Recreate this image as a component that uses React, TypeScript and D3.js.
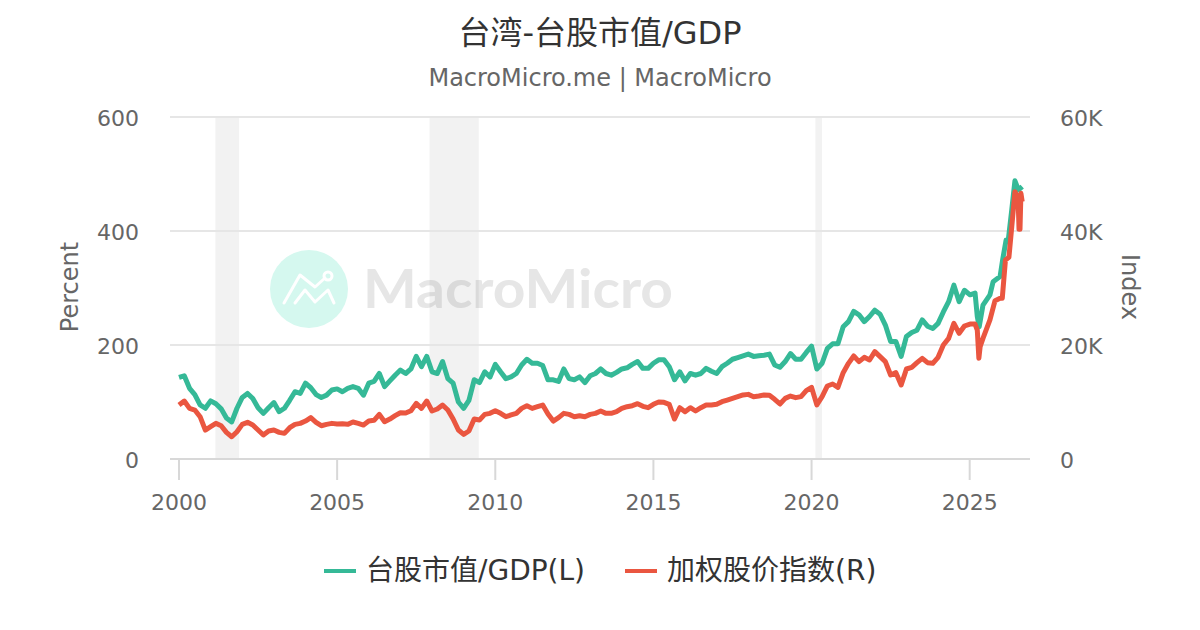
import React from "react";
import * as d3 from "d3";

const gridYears = d3.range(150).map(i => 2000 + i / 6);

const gdpGridValues = [
  143,146,124,113,95,89,102,97,88,72,65,89,108,115,106,90,80,90,99,83,89,103,118,115,133,125,113,
  108,112,121,123,118,124,127,124,112,133,136,150,127,137,147,156,150,158,180,162,180,153,150,171,141,133,100,89,
  103,139,134,153,144,166,153,141,144,150,165,175,168,168,164,139,139,136,158,141,139,144,134,146,150,158,150,147,
  152,158,160,166,171,159,159,168,174,174,162,139,153,137,150,147,150,159,154,150,162,168,175,178,181,184,180,
  181,182,184,165,161,171,185,175,175,187,198,158,168,194,202,202,232,241,259,253,241,250,261,254,235,206,206,180,
  215,222,226,244,233,229,238,258,276,305,276,296,
];
const gdpTailYears = [2025.01,2025.17,2025.24,2025.3,2025.42,2025.64,2025.74,2025.96,2026.04,2026.15,2026.22,2026.33,2026.43,2026.54,2026.66];
const gdpTailValues = [288,291,250,232,270,288,311,320,349,384,384,437,488,472,478];

const taiexGridValues = [
  9470,10170,8880,8590,7420,5080,5670,6250,5840,4670,3910,4790,6080,6430,5960,5080,4210,4910,5080,4670,4500,5490,6080,6250,6660,7250,6430,
  5840,6080,6250,6140,6190,6080,6490,6250,5960,6660,6780,7830,6550,7010,7600,8120,8070,8480,9760,8880,10170,8420,8770,9470,8590,7010,5080,4320,
  4910,7010,6840,7830,8010,8480,8010,7420,7720,8010,8880,9350,8880,9180,9470,7890,6660,7250,8010,7830,7420,7600,7420,7830,8010,8420,8010,8010,
  8300,8880,9180,9350,9700,9240,9000,9590,10000,9940,9590,7010,9000,8300,9000,8420,9000,9470,9470,9590,10050,10350,10640,10930,11230,11340,10930,
  11050,11230,11170,10470,9650,10640,11050,10760,10940,11990,12570,9500,10940,12810,13160,12570,15150,16780,18070,17080,17840,17370,18830,17950,17080,14740,15150,12980,
  15790,16080,16900,17660,16900,16780,17840,20000,21170,23800,22050,23330,
];
const taiexTailYears = [2025.01,2025.17,2025.24,2025.29,2025.33,2025.42,2025.64,2025.8,2025.96,2026.03,2026.13,2026.24,2026.33,2026.43,2026.53,2026.56,2026.59,2026.62,2026.66];
const taiexTailValues = [23680,23680,22630,17660,19710,21170,24390,27780,28190,28190,34910,35380,40760,46900,45730,40290,40290,46610,45150];

const recessions: [number, number][] = [[2001.15,2001.9],[2007.92,2009.48],[2020.12,2020.33]];
const xTicks = [2000,2005,2010,2015,2020,2025];
const leftTicks = [0,200,400,600];
const rightTicks = [0,20000,40000,60000];
const rightTickLabels = ["0","20K","40K","60K"];
const title = "台湾-台股市值/GDP";
const subtitle = "MacroMicro.me | MacroMicro";
const seriesNames = ["台股市值/GDP(L)","加权股价指数(R)"];
const seriesColors = ["#35b997","#ea5640"];

const FONT = "'DejaVu Sans','Noto Sans CJK SC',sans-serif";

export default function App() {
  const x = d3.scaleLinear().domain([2000,2025]).range([179,969.7]);
  const yL = d3.scaleLinear().domain([0,600]).range([459,117]);
  const yR = d3.scaleLinear().domain([0,60000]).range([459,117]);
  const gdp = d3.zip(gridYears.concat(gdpTailYears), gdpGridValues.concat(gdpTailValues));
  const taiex = d3.zip(gridYears.concat(taiexTailYears), taiexGridValues.concat(taiexTailValues));
  const gdpPath = d3.line<number[]>().x(d=>x(d[0])).y(d=>yL(d[1]))(gdp)!;
  const taiexPath = d3.line<number[]>().x(d=>x(d[0])).y(d=>yR(d[1]))(taiex)!;
  return (
    <svg width={1200} height={630} style={{position:"absolute",left:0,top:0,background:"#fff"}} fontFamily={FONT}>
      <text x={600} y={44} textAnchor="middle" fontSize={32} fill="#333">{title}</text>
      <text x={600} y={86} textAnchor="middle" fontSize={24} fill="#666">{subtitle}</text>

      <circle cx={309} cy={289} r={39} fill="#d5f8ef"/>
      <g fill="none" stroke="#fff" strokeWidth={3} strokeLinejoin="round" strokeLinecap="round">
        <polyline points="284,303 300,275 315,287 325,278"/>
        <circle cx={328} cy={276} r={4}/>
        <polyline points="295,303 305,290 315,302 328,290 334,303"/>
      </g>
      <text x={363} y={308} fontFamily="Lato" fontWeight={700} fontSize={54} fill="#e6e6e6" textLength={310} lengthAdjust="spacingAndGlyphs">MacroMicro</text>

      {recessions.map((r,i)=>(
        <rect key={i} x={x(r[0])} y={117} width={x(r[1])-x(r[0])} height={342} fill="#000" fillOpacity={0.05}/>
      ))}

      {leftTicks.filter(t=>t>0).map(t=>(
        <line key={t} x1={170} x2={1030} y1={yL(t)} y2={yL(t)} stroke="#e6e6e6" strokeWidth={2}/>
      ))}
      <line x1={170} x2={1030} y1={459} y2={459} stroke="#d8d8d8" strokeWidth={2}/>
      {xTicks.map(t=>(
        <g key={t}>
          <line x1={x(t)} x2={x(t)} y1={459} y2={480} stroke="#d8d8d8" strokeWidth={2}/>
          <text x={x(t)} y={510} textAnchor="middle" fontSize={22} fill="#666">{t}</text>
        </g>
      ))}
      {leftTicks.map(t=>(
        <text key={t} x={139} y={yL(t)+9} textAnchor="end" fontSize={22} fill="#666">{t}</text>
      ))}
      {rightTicks.map((t,i)=>(
        <text key={t} x={1060} y={yR(t)+9} fontSize={22} fill="#666">{rightTickLabels[i]}</text>
      ))}
      <text transform="translate(78,287) rotate(-90)" textAnchor="middle" fontSize={24} fill="#666">Percent</text>
      <text transform="translate(1122,287) rotate(90)" textAnchor="middle" fontSize={24} fill="#666">Index</text>

      <path d={gdpPath} fill="none" stroke={seriesColors[0]} strokeWidth={5} strokeLinejoin="round"/>
      <path d={taiexPath} fill="none" stroke={seriesColors[1]} strokeWidth={5} strokeLinejoin="round"/>

      <line x1={324} x2={356} y1={571} y2={571} stroke={seriesColors[0]} strokeWidth={4}/>
      <text x={366} y={580} fontSize={28} fill="#333">{seriesNames[0]}</text>
      <line x1={625} x2={657} y1={571} y2={571} stroke={seriesColors[1]} strokeWidth={4}/>
      <text x={667} y={580} fontSize={28} fill="#333">{seriesNames[1]}</text>
    </svg>
  );
}
